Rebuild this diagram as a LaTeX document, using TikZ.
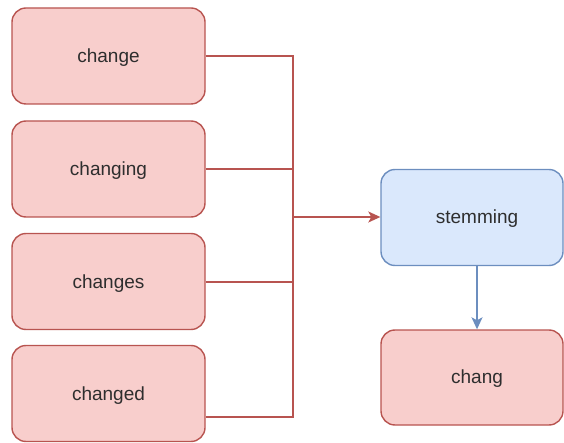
\documentclass[tikz,border=0pt]{standalone}
\usepackage{fontspec}
\setmainfont{Liberation Sans}
\usetikzlibrary{arrows.meta}
\definecolor{redfill}{HTML}{F8CECC}
\definecolor{redline}{HTML}{B85450}
\definecolor{bluefill}{HTML}{DAE8FC}
\definecolor{blueline}{HTML}{6C8EBF}
\tikzset{
  label font/.style={font=\fontsize{19}{21}\selectfont, text=black!82},
  wordbox/.style={draw=redline, fill=redfill, line width=1.4pt, rounded corners=14pt,
    minimum width=193pt, minimum height=96pt, inner sep=0pt, label font,
    text height=15pt, text depth=2pt},
  stembox/.style={wordbox, draw=blueline, fill=bluefill, minimum width=182pt},
  boxtext/.style={label font, inner sep=0pt, text height=15pt, text depth=2pt},
  redlink/.style={draw=redline, line width=1.4pt},
  bluelink/.style={draw=blueline, line width=1.4pt},
  tip/.style={-{Stealth[length=12pt,width=11pt,inset=3pt]}}
}
\begin{document}
\begin{tikzpicture}[x=1pt,y=-1pt]
\useasboundingbox (0,0) rectangle (564,443);
% source word forms
\node[wordbox] (w1) at (108.5,56) {change};
\node[wordbox] (w2) at (108.5,169) {changing};
\node[wordbox] (w3) at (108.5,281.5) {changes};
\node[wordbox] (w4) at (108.5,393.5) {changed};
% stemming step and its result
\node[stembox] (stem) at (472,217.5) {};
\node[boxtext] (stemlabel) at (477,217) {stemming};
\node[wordbox, minimum width=182pt, minimum height=95pt] (out) at (472,377.5) {};
\node[boxtext] (outlabel) at (477,377) {chang};
% collecting bus
\coordinate (bus) at (293,217);
\coordinate (p1) at (w1.east);
\coordinate (p2) at (w2.east);
\coordinate (p3) at ([yshift=-0.5pt]w3.east);
\coordinate (p4) at ([yshift=-23.5pt]w4.east);
\draw[redlink] (p1) -| (bus);
\draw[redlink] (p2) -| (bus);
\draw[redlink] (p3) -| (bus);
\draw[redlink] (p4) -| (bus);
\draw[redlink, tip] (bus) -- (stem.west |- bus);
\draw[bluelink, tip] (stem.south -| stemlabel) -- (out.north -| stemlabel);
\end{tikzpicture}
\end{document}
